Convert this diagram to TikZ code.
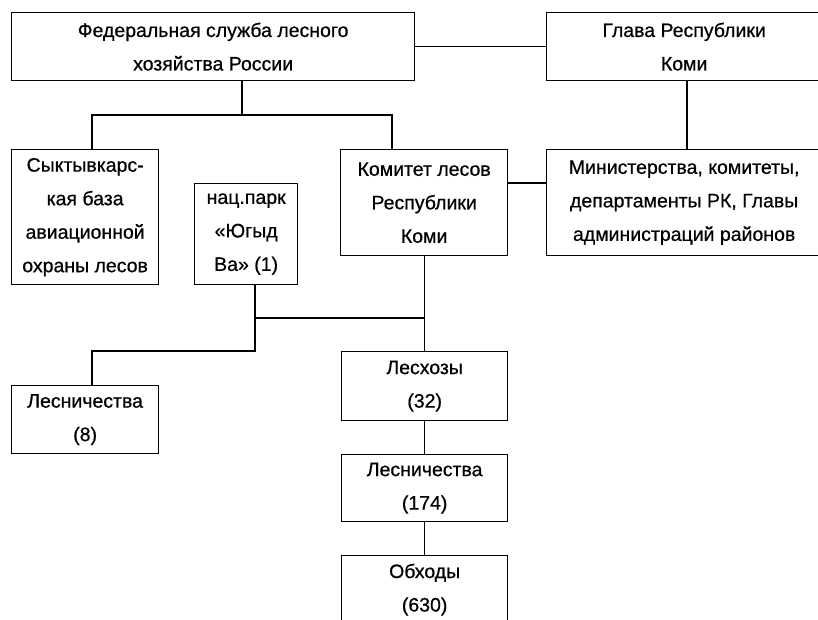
\documentclass[tikz,border=0pt]{standalone}
\usepackage{fontspec}
\setmainfont[UprightFeatures={FakeBold=0.6}]{Liberation Sans}
\begin{document}
\begin{tikzpicture}[x=1pt,y=-1pt,
  box/.style={draw, line width=1.3pt, anchor=north west, inner sep=0pt, align=center,
    font=\fontsize{19.5}{33.5}\selectfont},
  conn/.style={line width=1.1pt}]
\useasboundingbox (0,0) rectangle (818,619);
\clip (0,0) rectangle (818,619);
\fill[white] (0,0) rectangle (818,619);
\node[box, minimum width=403pt, minimum height=68pt] (fed) at (11,12) {Федеральная служба лесного\\хозяйства России};
\node[box, minimum width=275pt, minimum height=68pt] (glava) at (546,12) {Глава Республики\\Коми};
\node[box, minimum width=147pt, minimum height=135pt] (sykt) at (11,149) {Сыктывкарс-\\кая база\\авиационной\\охраны лесов};
\node[box, minimum width=103pt, minimum height=101pt] (nats) at (194,183) {нац.парк\\«Югыд\\Ва» (1)};
\node[box, minimum width=167pt, minimum height=106pt] (komitet) at (340,149) {Комитет лесов\\Республики\\Коми};
\node[box, minimum width=275pt, minimum height=106pt] (minis) at (546,149) {Министерства, комитеты,\\департаменты РК, Главы\\администраций районов};
\node[box, minimum width=147pt, minimum height=68pt] (les8) at (11,385) {Лесничества\\(8)};
\node[box, minimum width=166pt, minimum height=69pt] (lesxoz) at (341,351) {Лесхозы\\(32)};
\node[box, minimum width=166pt, minimum height=67pt] (les174) at (341,454) {Лесничества\\(174)};
\node[box, minimum width=166pt, minimum height=68pt] (obx) at (341,555) {Обходы\\(630)};
% connectors
\coordinate (fx) at (242,115);
\coordinate (sx) at (92,115);
\coordinate (kx) at (392,115);
\coordinate (gx) at (687,115);
\coordinate (ky) at (0,183);
\coordinate (nx) at (255,318);
\coordinate (ny) at (255,351);
\coordinate (lx) at (92,351);
\draw[conn] (fed) -- (glava);
\draw[conn] (fed.south -| fx) -- (fx);
\draw[conn] (sykt.north -| sx) -- (sx) -- (kx) -- (komitet.north -| kx);
\draw[conn] (glava.south -| gx) -- (minis.north -| gx);
\draw[conn] (komitet.east |- ky) -- (minis.west |- ky);
\draw[conn] (komitet.south -| lesxoz.north) -- (lesxoz.north);
\draw[conn] (nats.south -| nx) -- (ny) -- (lx) -- (les8.north -| lx);
\draw[conn] (nx) -- (nx -| lesxoz.north);
\draw[conn] (lesxoz) -- (les174);
\draw[conn] (les174) -- (obx);
\end{tikzpicture}
\end{document}
